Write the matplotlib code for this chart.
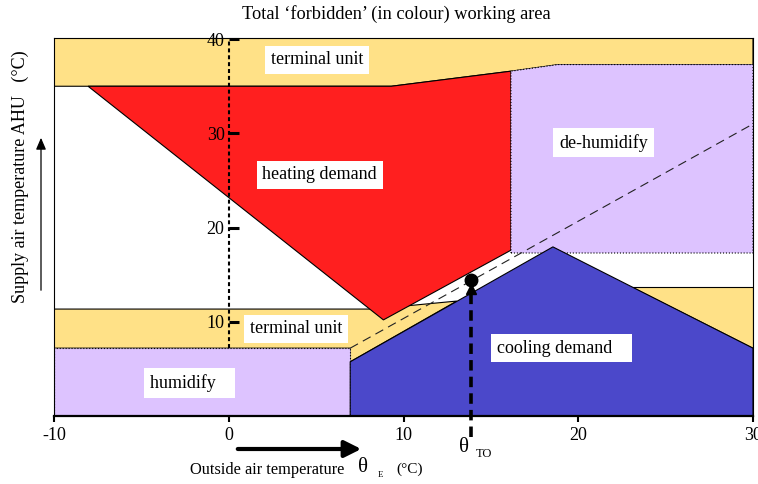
import matplotlib
matplotlib.use("Agg")
import matplotlib.pyplot as plt
from matplotlib.patches import Polygon, FancyArrowPatch

plt.rcParams['font.family'] = ['Liberation Serif', 'DejaVu Serif']

# ---- operating regions (outside temp x, supply temp y) ----
top_unit_x = [-10, 9.3, 16.15, 18.85, 30]
top_unit_y = [35.0, 35.0, 36.6, 37.3, 37.3]

heating_x = [-8.05, 9.3, 16.15, 16.15, 8.85]
heating_y = [35.0, 35.0, 36.6, 17.6, 10.2]

dehumid_x = [16.15, 30, 30, 18.85, 16.15]
dehumid_y = [17.3, 17.3, 37.3, 37.3, 36.6]

cooling_x = [6.95, 30, 30, 18.55, 6.95]
cooling_y = [0.0, 0.0, 7.2, 17.95, 5.75]

low_unit_x = [-10, 8.25, 13.05, 6.95, 6.95, -10]
low_unit_y = [11.35, 11.35, 12.2, 5.75, 7.2, 7.2]

right_unit_x = [23.05, 30, 30]
right_unit_y = [13.65, 13.65, 7.2]

humid_x = [-10, 6.95, 6.95, -10]
humid_y = [0.0, 0.0, 7.2, 7.2]

design_x = [6.95, 30]
design_y = [7.2, 31.0]

theta_to = 13.85
theta_to_supply = 14.4

x_ticks = [-10, 0, 10, 20, 30]
y_ticks = [10, 20, 30, 40]

YELLOW = '#FFE187'
RED = '#FF1F1F'
PURPLE = '#DDC3FF'
BLUE = '#4B48CA'

fig = plt.figure(figsize=(7.58, 4.84), dpi=100)
ax = fig.add_axes([54 / 758, 68 / 484, 699 / 758, 377.8 / 484])
ax.set_xlim(-10, 30)
ax.set_ylim(0, 40.1)


def poly(xs, ys, color, ls='-', z=1):
    ax.add_patch(Polygon(list(zip(xs, ys)), closed=True, facecolor=color,
                         edgecolor='black', linewidth=0.8, linestyle=ls, zorder=z))


top_x = top_unit_x + [30, -10]
top_y = top_unit_y + [40.1, 40.1]
poly(top_x, top_y, YELLOW, z=1)
poly(low_unit_x, low_unit_y, YELLOW, z=1)
poly(right_unit_x, right_unit_y, YELLOW, z=1)
poly(heating_x, heating_y, RED, z=2)
poly(dehumid_x, dehumid_y, PURPLE, ls=':', z=2)
poly(humid_x, humid_y, PURPLE, ls=':', z=2)
poly(cooling_x, cooling_y, BLUE, z=3)

# supply temperature design line
ax.plot(design_x, design_y, color='#222222', lw=0.8, ls=(0, (8, 5)), zorder=4)

# x = 0 reference line
ax.plot([0, 0], [humid_y[2], 40.1], color='black', lw=1.5,
        ls=(0, (1.9, 1.4)), zorder=4)

# changeover temperature marker
ax.plot([theta_to, theta_to], [-2.2, theta_to_supply - 1.2], color='black',
        lw=2.6, ls=(0, (2.9, 1.7)), zorder=5, clip_on=False)
ax.plot([theta_to], [theta_to_supply - 0.95], marker='^', ms=7, color='black', zorder=6)
ax.plot([theta_to], [theta_to_supply], marker='o', ms=9, color='black', zorder=6)

# region labels
box = dict(boxstyle='square,pad=0.32', facecolor='white', edgecolor='none')
labels = [
    (5.05, 37.8, 'terminal unit'),
    (5.2, 25.6, 'heating demand'),
    (21.45, 29.0, 'de-humidify'),
    (3.85, 9.25, 'terminal unit'),
    (-2.26, 3.5, 'humidify   '),
    (19.05, 7.2, 'cooling demand   '),
]
for lx, ly, txt in labels:
    ax.text(lx, ly, txt, ha='center', va='center', fontsize=13, bbox=box, zorder=7)

# axes styling
for s in ax.spines.values():
    s.set_linewidth(0.8)
    s.set_zorder(8)
ax.spines['bottom'].set_linewidth(1.6)
ax.set_xticks(x_ticks)
ax.set_xticklabels([str(v) for v in x_ticks])
ax.tick_params(axis='x', direction='out', length=4, width=1.5, labelsize=13, pad=4)
ax.set_yticks([])

# supply temperature scale drawn along x = 0
sec = ax.secondary_yaxis(0.25)
sec.set_zorder(10)
sec.set_yticks(y_ticks)
sec.set_yticklabels([str(v) for v in y_ticks])
sec.tick_params(direction='in', length=7, width=2.2, labelsize=13, pad=3)
sec.spines['left'].set_visible(False)

# title and axis labels
W, H = 758, 484
fig.text(396 / W, 1 - 14 / H, 'Total \u2018forbidden\u2019 (in colour) working area',
         ha='center', va='center', fontsize=13.2)
fig.text(20 / W, 1 - 177 / H, 'Supply air temperature AHU   (\u00b0C)',
         rotation=90, ha='center', va='center', fontsize=13)
fig.text(190 / W, 1 - 470 / H, 'Outside air temperature', ha='left', va='center', fontsize=11.8)
fig.text(363 / W, 1 - 467 / H, '\u03b8', ha='center', va='center', fontsize=15)
fig.text(380 / W, 1 - 475 / H, 'E', ha='center', va='center', fontsize=6.5)
fig.text(410 / W, 1 - 469 / H, '(\u00b0C)', ha='center', va='center', fontsize=11)
fig.text(464 / W, 1 - 448 / H, '\u03b8', ha='center', va='center', fontsize=15)
fig.text(484 / W, 1 - 454 / H, 'TO', ha='center', va='center', fontsize=9)

# direction arrows
fig.patches.append(FancyArrowPatch(
    (235 / W, 1 - 449 / H), (364 / W, 1 - 449 / H), transform=fig.transFigure,
    arrowstyle='-|>,head_length=10,head_width=5', mutation_scale=1,
    lw=3, color='black'))
fig.patches.append(FancyArrowPatch(
    (41 / W, 1 - 293 / H), (41 / W, 1 - 135 / H), transform=fig.transFigure,
    arrowstyle='-|>,head_length=7,head_width=3', mutation_scale=1,
    lw=0.9, color='black'))

fig.savefig('out.png', dpi=100)
